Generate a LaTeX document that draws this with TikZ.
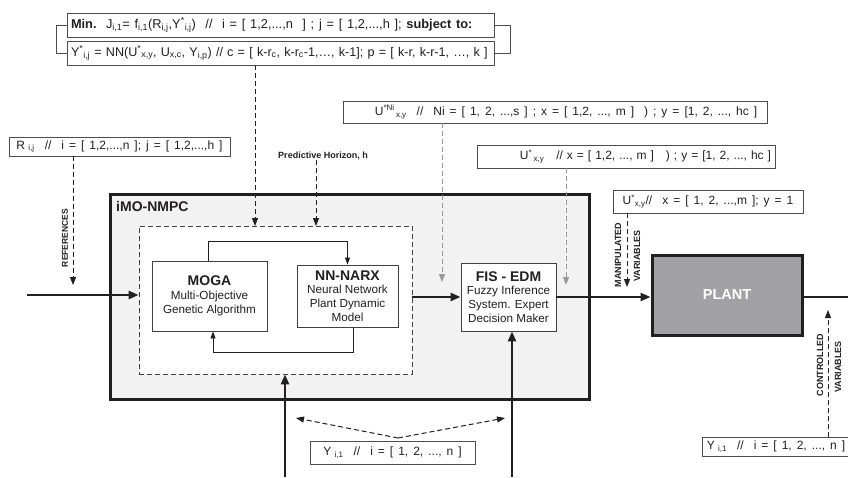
\documentclass[tikz,border=0pt]{standalone}
\usepackage{fontspec}
\setmainfont{Liberation Sans}
\newfontfamily\boxfont[WordSpace=1.5]{Liberation Sans}
\usetikzlibrary{arrows.meta}
\newcommand{\sbsp}[2]{\textsuperscript{#1}\textsubscript{#2}}
\definecolor{ink}{HTML}{231F20}
\definecolor{panel}{HTML}{F2F2F2}
\definecolor{plantgray}{HTML}{A2A2A4}
\begin{document}
\begin{tikzpicture}[x=1pt,y=-1pt,
  every node/.style={text=ink},
  txtbox/.style={draw=ink!80, line width=0.8pt, fill=white, inner ysep=0pt, inner xsep=4pt, font=\boxfont\fontsize{12}{13}\selectfont},
  blockbox/.style={draw=ink!85, line width=0.9pt, fill=white, inner sep=0pt, align=center, font=\fontsize{11.7}{13.8}\selectfont},
  thickarrow/.style={draw=ink, line width=2.4pt, -{Triangle[length=10pt,width=8pt]}},
  thickline/.style={draw=ink, line width=2.4pt},
  thinarrow/.style={draw=ink, line width=0.9pt, -{Triangle[length=7pt,width=5pt]}},
  dasharrow/.style={draw=ink, line width=1pt, dash pattern=on 5pt off 3pt, -{Triangle[length=8pt,width=6pt]}},
  greydash/.style={draw=gray!80, line width=1pt, dash pattern=on 5pt off 3pt, -{Triangle[length=8pt,width=6pt]}},
  sidelabel/.style={font=\fontsize{9}{10}\bfseries\selectfont, rotate=90, inner sep=0pt},
  bracket/.style={draw=ink!80, line width=0.8pt}
]
\useasboundingbox (0,0) rectangle (848,477);

% outer iMO-NMPC panel
\node[draw=ink, line width=3pt, fill=panel, minimum width=479pt, minimum height=205pt, inner sep=0pt] (outer) at (349.5,296.5) {};
\node[font=\fontsize{14}{16}\bfseries\selectfont, anchor=west, inner sep=0pt] (title) at (116,206) {iMO-NMPC};
% inner dashed area
\node[draw=ink!85, line width=0.8pt, dash pattern=on 5pt off 3pt, fill=white, minimum width=273pt, minimum height=148pt, inner sep=0pt] (inner) at (275.5,300) {};

% blocks
\node[blockbox, minimum width=115pt, minimum height=70pt] (moga) at (209.5,296) {{\fontsize{14}{16}\bfseries\selectfont MOGA}\\Multi-Objective\\Genetic Algorithm};
\node[blockbox, minimum width=101pt, minimum height=62pt] (nn) at (347.5,296) {{\fontsize{14}{16}\bfseries\selectfont NN-NARX}\\Neural Network\\Plant Dynamic\\Model};
\node[blockbox, minimum width=95pt, minimum height=68pt] (fis) at (508.5,297) {{\fontsize{14}{16}\bfseries\selectfont FIS - EDM}\\Fuzzy Inference\\System. Expert\\Decision Maker};
\node[draw=ink, line width=3pt, fill=plantgray, minimum width=150pt, minimum height=80pt, inner sep=0pt, text=white, font=\fontsize{14.5}{16}\bfseries\selectfont] (plant) at (727,295) {PLANT};

% text boxes
\node[txtbox, font=\boxfont\fontsize{12.8}{13}\selectfont, minimum width=427pt, minimum height=24pt, text width=419pt, align=left] (min1) at (280.5,25) {\spaceskip=4.75pt plus 1pt minus 1pt\relax\mbox{\textbf{Min.}\ \ J\textsubscript{i,1}= f\textsubscript{i,1}(R\textsubscript{i,j},Y\sbsp{*}{i,j})\ \ //\ \ i = [ 1,2,...,n\ \ ] ; j = [ 1,2,...,h ]; \textbf{subject to:}}};
\node[txtbox, font=\boxfont\fontsize{12.6}{13}\selectfont, minimum width=427pt, minimum height=24pt, text width=419pt, align=left] (min2) at (280.5,53) {Y\sbsp{*}{i,j} = NN(U\sbsp{*}{x,y}, U\textsubscript{x,c}, Y\textsubscript{i,p}) // c = [ k-r\textsubscript{c}, k-r\textsubscript{c}-1,…, k-1]; p = [ k-r, k-r-1, …, k ]};
\node[txtbox, minimum width=221pt, minimum height=19pt] (rbox) at (119.5,146.5) {R\textsubscript{ i,j}\ \ //\ \ i = [ 1,2,...,n ]; j = [ 1,2,...,h ]};
\node[txtbox, minimum width=424pt, minimum height=22pt] (uni) at (555,112) {\hspace{22pt}U\sbsp{*Ni}{\,x,y}\ \ //\ \ Ni = [ 1, 2, ...,s ] ; x = [ 1,2, ..., m ]\ \ ) ; y = [1, 2, ..., hc ]};
\node[txtbox, minimum width=298pt, minimum height=23pt, text width=290pt, align=right] (ustar) at (626,156.5) {U\sbsp{*}{\,x,y}\ \ \ // x = [ 1,2, ..., m ]\ \ \ ) ; y = [1, 2, ..., hc ]};
\node[txtbox, minimum width=190pt, minimum height=23pt] (uman) at (708,201.5) {U\sbsp{*}{x,y}//\ \ x = [ 1, 2, ...,m ]; y = 1};
\node[txtbox, minimum width=165pt, minimum height=23pt] (ybot) at (392.5,452.5) {Y\textsubscript{ i,1}\ \ //\ \ i = [ 1, 2, ..., n ]};
\node[txtbox, minimum width=142pt, minimum height=19pt] (yright) at (776,446.5) {Y\textsubscript{ i,1}\ \ //\ \ i = [ 1, 2, ..., n ]};

% labels
\node[font=\fontsize{9}{10}\bfseries\selectfont, inner sep=0pt] (ph) at (323,156) {Predictive Horizon, h};
\node[sidelabel, font=\fontsize{8.5}{9.5}\bfseries\selectfont] (refl) at (65,238) {REFERENCES};
\node[sidelabel] (manl) at (618,255) {MANIPULATED};
\node[sidelabel] (manv) at (637,256) {VARIABLES};
\node[sidelabel] (conl) at (820,365) {CONTROLLED};
\node[sidelabel] (conv) at (838,367) {VARIABLES};

% brackets joining the two optimisation boxes
\draw[bracket] (min1.west) -- ++(-10,0) |- (min2.west);
\draw[bracket] (min1.east) -- ++(16,0) |- (min2.east);

% coordinates
\coordinate (inL) at (27,295);
\coordinate (outR) at (848,297);
\coordinate (botA) at (285,477);
\coordinate (botB) at (512,477);
\coordinate (d1) at (255,226);
\coordinate (d2) at (316,226);
\coordinate (dR) at (73,285);
\coordinate (dNi) at (442,282);
\coordinate (dS) at (566,285);
\coordinate (dM) at (627,287);
\coordinate (dY) at (828,310);
\coordinate (yL) at (296,418);
\coordinate (yRr) at (505,418);
\coordinate (yTop) at (398,438);

% main signal flow
\draw[thickarrow] (inL) -- (inL -| inner.west);
\draw[thickarrow] (inner.east |- fis.west) -- (fis.west);
\draw[thickarrow] (fis.east) -- (plant.west |- fis.east);
\draw[thickline] (plant.east |- outR) -- (outR);
\draw[thickarrow] (botA) -- (botA |- inner.south);
\draw[thickarrow] (botB) -- (botB |- fis.south);

% MOGA <-> NN-NARX loop
\draw[thinarrow] ([xshift=-1.5pt]moga.north) -- ++(0,-19) -| (nn.north);
\draw[thinarrow] ([xshift=5.5pt]nn.south) -- ++(0,25) -| ([xshift=3.5pt]moga.south);

% dashed connectors
\draw[dasharrow] (d1 |- min2.south) -- (d1);
\draw[dasharrow] (d2 |- ph.south) -- (d2);
\draw[dasharrow] (dR |- rbox.south) -- (dR);
\draw[greydash] (dNi |- uni.south) -- (dNi);
\draw[greydash] (dS |- ustar.south) -- (dS);
\draw[dasharrow] (dM |- uman.south) -- (dM);
\draw[dasharrow] (dY |- yright.north) -- (dY);
\draw[dasharrow] (yTop) -- (yL);
\draw[dasharrow] (yTop) -- (yRr);
\end{tikzpicture}
\end{document}
